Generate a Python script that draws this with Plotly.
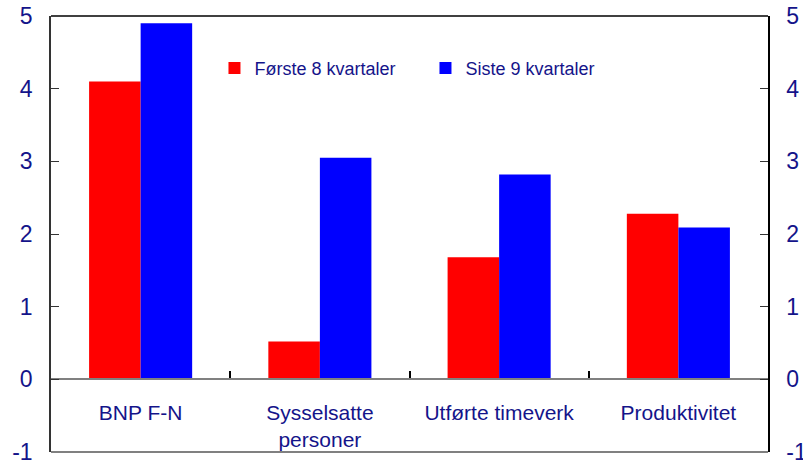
import plotly.graph_objects as go

categories = ["BNP F-N", "Sysselsatte<br>personer", "Utførte timeverk", "Produktivitet"]
forste_8 = [4.1, 0.52, 1.68, 2.28]
siste_9 = [4.9, 3.05, 2.82, 2.09]
series_names = ["Første 8 kvartaler", "Siste 9 kvartaler"]
y_ticks = [-1, 0, 1, 2, 3, 4, 5]
y_tick_text = ["-1", "0", "1", "2", "3", "4", "5"]

NAVY = "#14148a"
FONT = "Liberation Sans, Arial, sans-serif"

fig = go.Figure()
fig.add_trace(go.Bar(x=categories, y=forste_8, name=series_names[0],
                     marker=dict(color="#ff0000", line=dict(width=0))))
fig.add_trace(go.Bar(x=categories, y=siste_9, name=series_names[1],
                     marker=dict(color="#0000ff", line=dict(width=0))))
fig.add_trace(go.Scatter(x=categories, y=siste_9, yaxis="y2", mode="none",
                         showlegend=False, hoverinfo="skip"))

fig.update_layout(
    width=803, height=466,
    margin=dict(l=51, r=35, t=16, b=14),
    paper_bgcolor="white", plot_bgcolor="white",
    barmode="group", bargap=0.425, bargroupgap=0,
    font=dict(family=FONT, color=NAVY),
    legend=dict(orientation="h", x=0.228, y=0.88, xanchor="left", yanchor="middle",
                font=dict(size=18, color=NAVY, family=FONT), bgcolor="rgba(0,0,0,0)",
                entrywidth=166, itemsizing="constant"),
    xaxis=dict(type="category", anchor="free", position=(0 - (-1)) / 6,
               showline=True, linecolor="#808080", linewidth=2,
               ticks="inside", tickson="boundaries", ticklen=7, tickcolor="black", tickwidth=1.5,
               tickfont=dict(size=21, color=NAVY), ticklabelstandoff=14,
               showgrid=False, zeroline=False, automargin=False),
    yaxis=dict(range=[-1, 5], tickvals=y_ticks, ticktext=y_tick_text, ticks="inside", ticklen=8,
               tickcolor="#333", automargin=False,
               showline=True, linecolor="#333", linewidth=1.5, showgrid=False, zeroline=False,
               tickfont=dict(size=23, color=NAVY), ticklabelstandoff=12),
    yaxis2=dict(range=[-1, 5], tickvals=y_ticks, ticktext=y_tick_text, overlaying="y", side="right",
                ticks="inside", ticklen=8, tickcolor="#333", automargin=False,
                showline=True, linecolor="black", linewidth=1.5, showgrid=False, zeroline=False,
                tickfont=dict(size=23, color=NAVY), ticklabelstandoff=12),
    shapes=[
        dict(type="line", xref="paper", yref="paper", x0=0, x1=1, y0=1, y1=1,
             line=dict(color="black", width=1.5)),
        dict(type="line", xref="paper", yref="paper", x0=0, x1=1, y0=0, y1=0,
             line=dict(color="#808080", width=2)),
    ],
)

fig.write_html("out.html", config={"displayModeBar": False},
               post_script="document.body.style.margin='0';document.body.style.padding='0';")
